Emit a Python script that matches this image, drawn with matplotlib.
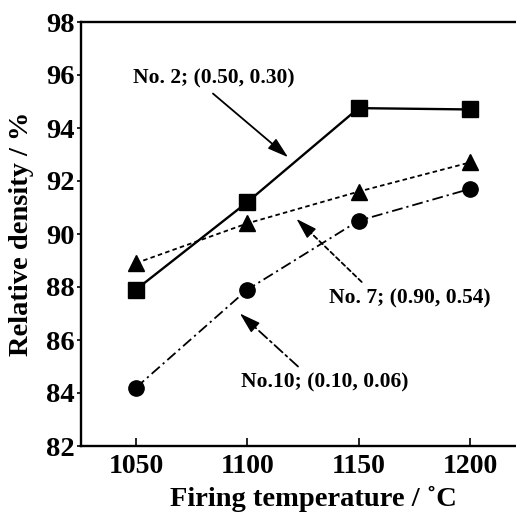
import matplotlib
matplotlib.use("Agg")
import matplotlib.pyplot as plt
import numpy as np

# firing temperature (deg C) and relative density (%) for three compositions
temps = [1050, 1100, 1150, 1200]
no2_density = [87.9, 91.2, 94.75, 94.7]
no7_density = [88.9, 90.4, 91.6, 92.7]
no10_density = [84.2, 87.9, 90.5, 91.7]

xticks = [1050, 1100, 1150, 1200]
yticks = [82, 84, 86, 88, 90, 92, 94, 96, 98]

plt.rcParams['font.family'] = ['Liberation Serif', 'DejaVu Serif']
plt.rcParams['font.weight'] = 'bold'

fig = plt.figure(figsize=(5.16, 5.14), dpi=100)
ax = fig.add_axes([80.7 / 516, 68 / 514, 1 - 80.7 / 516, 424 / 514])

dotted = (0, (2.5, 1.8))
dashdot = (0, (6, 2.2, 1.2, 2.2))

ax.plot(temps, no2_density, color='black', lw=1.7, ls='-', marker='s', ms=11)
ax.plot(temps, no7_density, color='black', lw=1.3, ls=dotted, marker='^', ms=11.5)
ax.plot(temps, no10_density, color='black', lw=1.3, ls=dashdot, marker='o', ms=11)

ax.set_xlim(1025.2, 1220.7)
ax.set_ylim(82, 98)
ax.set_xticks(xticks)
ax.set_yticks(yticks)
ax.tick_params(axis='x', direction='in', length=6, width=1.2, labelsize=20, pad=6)
ax.tick_params(axis='y', direction='out', length=3, width=1.2, labelsize=20.5, pad=1.5)
for lab in ax.get_xticklabels() + ax.get_yticklabels():
    lab.set_fontweight('bold')

for side in ['left', 'top', 'bottom']:
    ax.spines[side].set_linewidth(1.7)
ax.spines['right'].set_visible(False)

ax.set_xlabel('Firing temperature / ˚C', fontsize=20.5, fontweight='bold')
ax.xaxis.set_label_coords((313.5 - 80.7) / (516 - 80.7), -0.095)
ax.set_ylabel('Relative density / %', fontsize=20.5, fontweight='bold')
ax.yaxis.set_label_coords(-0.107, 0.5)


def arrow(tip, tail, ls):
    # shaft in the series' line style, solid filled head at the tip
    ax.annotate('', xy=tip, xytext=tail,
                arrowprops=dict(arrowstyle='-', color='black', lw=1.3, ls=ls,
                                shrinkA=0, shrinkB=12))
    p_tip = ax.transData.transform(tip)
    p_tail = ax.transData.transform(tail)
    d = (p_tail - p_tip) / np.hypot(*(p_tail - p_tip))
    head_base = ax.transData.inverted().transform(p_tip + d * 18)
    ax.annotate('', xy=tip, xytext=head_base,
                arrowprops=dict(arrowstyle='-|>,head_length=1.3,head_width=0.4',
                                color='black', lw=1.0, shrinkA=0, shrinkB=0))


ax.text(1085.0, 95.88, 'No. 2; (0.50, 0.30)', ha='center', va='center',
        fontsize=15.5, fontweight='bold')
arrow((1118.3, 92.9), (1084.6, 95.30), '-')

ax.text(1172.9, 87.56, 'No. 7; (0.90, 0.54)', ha='center', va='center',
        fontsize=15.5, fontweight='bold')
arrow((1122.1, 90.57), (1151.4, 88.19), dotted)

ax.text(1134.8, 84.40, 'No.10; (0.10, 0.06)', ha='center', va='center',
        fontsize=15.5, fontweight='bold')
arrow((1096.7, 87.0), (1122.8, 85.0), dashdot)

fig.savefig('out.png', dpi=100)
